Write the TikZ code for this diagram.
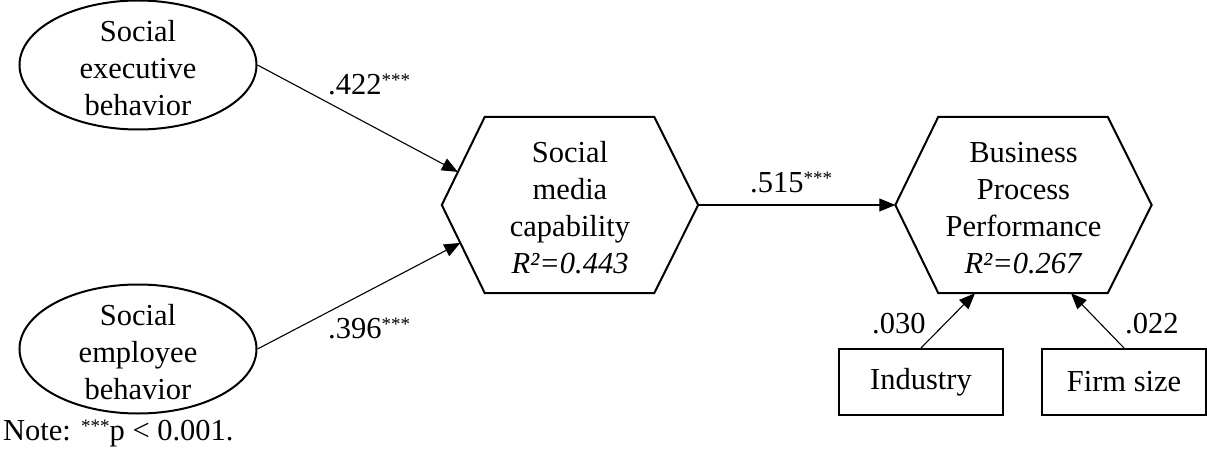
\documentclass[tikz,border=0pt]{standalone}
\usepackage{fontspec}
\setmainfont{Liberation Serif}
\usetikzlibrary{arrows.meta,calc,shapes.geometric}
\newcommand{\mystars}{{\fontsize{19}{19}\selectfont\raisebox{8pt}{***}}}
\begin{document}
\begin{tikzpicture}[x=1pt,y=-1pt,
  txt/.style={font=\fontsize{30.5}{37}\selectfont, align=center, inner sep=0pt},
  lbl/.style={font=\fontsize{30.5}{37}\selectfont, inner sep=0pt, anchor=base west},
  latent/.style={ellipse, draw, line width=2pt, minimum width=237pt, minimum height=129pt, inner sep=0pt},
  hexbox/.style={txt, minimum width=256pt, minimum height=176pt},
  hexline/.style={line width=2pt, line join=miter},
  obsbox/.style={txt, draw, line width=2pt, minimum width=164pt, minimum height=66pt},
  path/.style={line width=1.1pt, -{Triangle[length=16pt,width=13pt]}}
]
\useasboundingbox (0,0) rectangle (1207,457);

% latent constructs
\node[latent] (e1) at (138,65) {};
\node[txt] (e1t) at (138,68) {Social\\executive\\behavior};
\node[latent] (e2) at (138,349) {};
\node[txt] (e2t) at (138,352) {Social\\employee\\behavior};

% hexagons
\node[hexbox] (h1) at (570,205) {};
\node[txt] (h1t) at (570,208) {Social\\media\\capability\\\textit{R²=0.443}};
\node[hexbox] (h2) at (1023.5,205) {};
\node[txt] (h2t) at (1023.5,208) {Business\\Process\\Performance\\\textit{R²=0.267}};
\foreach \h in {h1,h2}{
  \draw[hexline] (\h.west) -- ([xshift=43pt]\h.north west) -- ([xshift=-44pt]\h.north east)
    -- (\h.east) -- ([xshift=-44pt]\h.south east) -- ([xshift=43pt]\h.south west) -- cycle;
}

% control boxes
\node[obsbox] (ind) at (921,382) {Industry};
\node[obsbox] (fs) at (1124,382) {Firm size};

% arrow end points on hexagon edges
\coordinate (h1a) at ($(h1.west)!0.375!([xshift=43pt]h1.north west)$);
\coordinate (h1b) at ($(h1.west)!0.43!([xshift=43pt]h1.south west)$);
\coordinate (h2a) at ([xshift=-48.5pt]h2.south);
\coordinate (h2b) at ([xshift=47.5pt]h2.south);

% paths
\draw[path] (e1.east) -- (h1a);
\draw[path] (e2.east) -- (h1b);
\draw[path] (h1.east) -- (h2.west);
\draw[path] (ind.north) -- (h2a);
\draw[path] (fs.north) -- (h2b);

% coefficients
\node[lbl] (c1) at (328,95) {.422\mystars};
\node[lbl] (c2) at (328,338) {.396\mystars};
\node[lbl] (c3) at (750,193) {.515\mystars};
\node[lbl] (c4) at (872,333) {.030};
\node[lbl] (c5) at (1125,333) {.022};

% note
\node[lbl] (note) at (3,440) {Note: \mystars p < 0.001.};
\end{tikzpicture}
\end{document}
